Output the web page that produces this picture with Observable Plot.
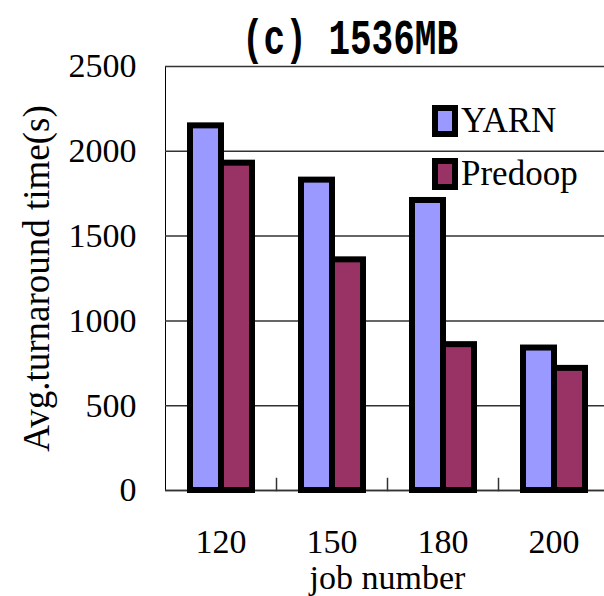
<!DOCTYPE html>
<html>
<head>
<meta charset="utf-8">
<script src="https://cdn.jsdelivr.net/npm/d3@7"></script>
<script src="https://cdn.jsdelivr.net/npm/@observablehq/plot@0.6"></script>
<style>
  body { margin: 0; background: #fff; }
  #wrap { position: relative; width: 604px; height: 596px; overflow: hidden; }
  #title {
    position: absolute; left: 0; width: 700px; top: 31px; height: 36px;
    line-height: 36px; font-size: 36px; font-weight: bold;
    font-family: 'Liberation Mono', monospace; text-align: center; color: #000;
    transform: scaleY(1.4); transform-origin: 50% 100%; white-space: pre;
  }
  #legend { position: absolute; left: 432px; top: 105px; font-family: 'Liberation Serif', 'Times New Roman', serif; font-size: 35px; color: #000; }
  .item { display: flex; align-items: center; height: 32px; margin-bottom: 21px; }
  .sw { display: inline-block; width: 14px; height: 20px; border: 6px solid #000; margin-right: 3px; }
  .item span.t { line-height: 32px; font-family: 'Liberation Serif', 'Times New Roman', serif; }
</style>
</head>
<body>
<div id="wrap">
  <div id="chart"></div>
  <div id="title"></div>
  <div id="legend"></div>
</div>
<script>
const titleText = "(c) 1536MB";
const jobs = ["120", "150", "180", "200"];
const series = ["YARN", "Predoop"];
const yarn = [2150, 1830, 1710, 840];
const predoop = [1930, 1360, 860, 720];
const colors = ["#9999FF", "#993366"];
const yTicks = [0, 500, 1000, 1500, 2000, 2500];
const xLabel = "job number";
const yLabel = "Avg.turnaround time(s)";

const values = {YARN: yarn, Predoop: predoop};
const data = jobs.flatMap((j, i) => series.map(s => ({job: j, series: s, value: values[s][i]})));

const chart = Plot.plot({
  width: 604,
  height: 596,
  marginLeft: 165,
  marginRight: -5,
  marginTop: 66,
  marginBottom: 106,
  style: {fontFamily: "Liberation Serif, serif", fontSize: "34px", color: "#000", background: "transparent", overflow: "visible"},
  fx: {domain: jobs, padding: 0, axis: "bottom", label: xLabel, labelAnchor: "center", labelOffset: 98, tickSize: 0, tickPadding: 38},
  x: {domain: series, axis: null, paddingInner: 0, paddingOuter: 0.76},
  y: {domain: [0, 2500], ticks: yTicks, tickFormat: d => String(d), tickSize: 0, tickPadding: 29, label: yLabel, labelAnchor: "center", labelOffset: 143, labelArrow: "none", line: true},
  color: {domain: series, range: colors},
  marks: [
    Plot.gridY(yTicks, {stroke: "#333", strokeOpacity: 1, strokeWidth: 1.5}),
    Plot.frame({anchor: "right", insetTop: 412, stroke: "#333", strokeWidth: 1.5}),
    Plot.ruleY([0], {stroke: "#333", strokeWidth: 1.5}),
    Plot.barY(data, {fx: "job", x: "series", y: "value", fill: "series", stroke: "#000", strokeWidth: 6})
  ]
});
const yl = chart.querySelector('[aria-label="y-axis label"]');
if (yl) yl.setAttribute("font-size", 37);
document.getElementById("chart").appendChild(chart);

document.getElementById("title").textContent = titleText;
const legend = document.getElementById("legend");
series.forEach((s, i) => {
  const item = document.createElement("div");
  item.className = "item";
  const sw = document.createElement("span");
  sw.className = "sw";
  sw.style.background = colors[i];
  const t = document.createElement("span");
  t.className = "t";
  t.textContent = s;
  item.appendChild(sw);
  item.appendChild(t);
  legend.appendChild(item);
});
</script>
</body>
</html>
